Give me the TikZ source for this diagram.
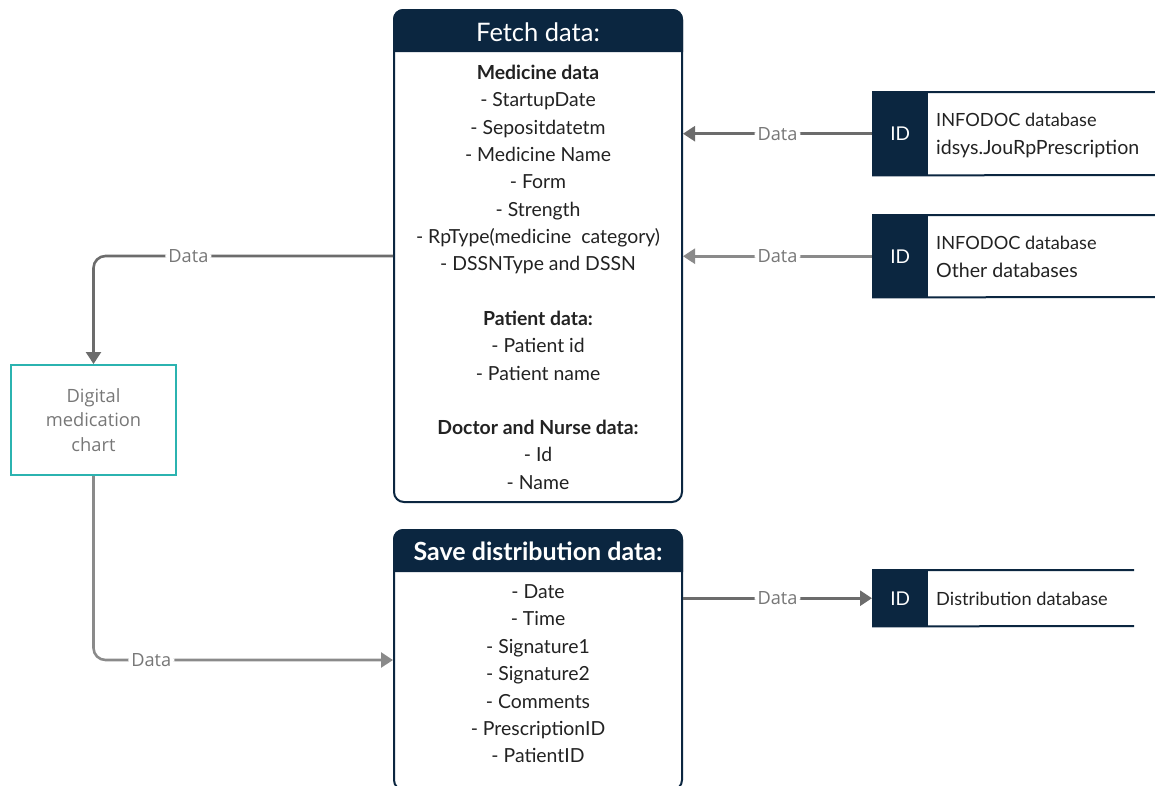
\documentclass[tikz,border=0pt]{standalone}
\usepackage{fontspec}
\setmainfont{Lato}
\newfontfamily\lblfont{Open Sans}
\usetikzlibrary{arrows.meta}
\definecolor{navy}{HTML}{0B2640}
\definecolor{chartteal}{HTML}{2BB3B0}
\definecolor{flowdark}{HTML}{6C6C6C}
\definecolor{flowlight}{HTML}{8A8A8A}
\definecolor{lbltext}{HTML}{777777}
\definecolor{bodytext}{HTML}{222222}
\tikzset{
  panel/.style={draw=navy, line width=2pt, rounded corners=10pt, fill=white},
  item/.style={font=\fontsize{19.4}{23}\selectfont, text=bodytext, anchor=base, inner sep=0pt},
  itemhead/.style={item, font=\fontsize{19.4}{23}\selectfont\bfseries},
  title/.style={font=\fontsize{25.5}{30}\selectfont, text=white, anchor=base, inner sep=0pt},
  idbox/.style={fill=navy, text=white, font=\fontsize{19}{22}\selectfont, anchor=north west, inner sep=0pt},
  dbtext/.style={anchor=base west, inner sep=0pt, text=bodytext},
  flow/.style={line width=2.6pt, -{Triangle[length=12pt,width=15pt]}, rounded corners=12pt},
  lbl/.style={font=\lblfont\fontsize{18.2}{21}\selectfont, text=lbltext, fill=white, inner sep=3pt},
}
\begin{document}
\begin{tikzpicture}[x=1pt,y=-1pt]
\useasboundingbox (0,0) rectangle (1155,785);

% ---- Fetch data panel ----
\node[panel, minimum width=288, minimum height=492, inner sep=0pt] (fetch) at (538,256) {};
\fill[navy] (fetch.west |- 0,52) {[rounded corners=10pt] -- (fetch.north west) -- (fetch.north east)} -- (fetch.east |- 0,52) -- cycle;
\node[title] (fetchtitle) at (538,41) {Fetch data:};
\foreach \t/\y [count=\i] in {Medicine data/79, Patient data:/325, Doctor and Nurse data:/434}
  \node[itemhead] (fh\i) at (538,\y) {\t};
\foreach \t/\y [count=\i] in {
  - StartupDate/106, - Sepositdatetm/134, - Medicine Name/161, - Form/188,
  - Strength/216, - RpType(medicine\ \ category)/243, - DSSNType and DSSN/270,
  - Patient id/352, - Patient name/380, - Id/461, - Name/489}
  \node[item] (fi\i) at (538,\y) {\t};

% ---- Save distribution data panel ----
\node[panel, minimum width=288, minimum height=260, inner sep=0pt] (save) at (538,660) {};
\fill[navy] (save.west |- 0,572) {[rounded corners=10pt] -- (save.north west) -- (save.north east)} -- (save.east |- 0,572) -- cycle;
\node[title, font=\fontsize{25}{30}\selectfont\bfseries] (savetitle) at (538,560) {Save distribution data:};
\foreach \t/\y [count=\i] in {
  - Date/598, - Time/625, - Signature1/653, - Signature2/680,
  - Comments/708, - PrescriptionID/735, - PatientID/762}
  \node[item] (si\i) at (538,\y) {\t};

% ---- Source and target databases ----
\node[idbox, minimum width=56, minimum height=83] (id1) at (872,92) {ID};
\draw[navy, line width=2pt] (id1.north west) -- (1160,92) (id1.south west) -- (1160,175);
\node[dbtext, font=\fontsize{18.2}{21}\selectfont] (db1a) at (936,126) {INFODOC database};
\node[dbtext, font=\fontsize{19.6}{23}\selectfont] (db1b) at (936,154) {idsys.JouRpPrescription};

\node[idbox, minimum width=56, minimum height=82] (id2) at (872,215) {ID};
\draw[navy, line width=2pt] (id2.north west) -- (1160,215) (id2.south west) -- (1160,297);
\node[dbtext, font=\fontsize{18.2}{21}\selectfont] (db2a) at (936,249) {INFODOC database};
\node[dbtext, font=\fontsize{19.6}{23}\selectfont] (db2b) at (936,277) {Other databases};

\node[idbox, minimum width=56, minimum height=56] (id3) at (872,570) {ID};
\draw[navy, line width=2pt] (id3.north west) -- (1134,570) (id3.south west) -- (1134,626);
\node[dbtext, font=\fontsize{18.2}{21}\selectfont] (db3a) at (936,605) {Distribution database};

% ---- Digital medication chart ----
\node[draw=chartteal, line width=2pt, minimum width=165, minimum height=110, inner sep=0pt,
      align=center, text=lbltext, font=\lblfont\fontsize{18.3}{24.5}\selectfont] (chart) at (93.5,420)
      {Digital\\medication\\chart};

% ---- Data flows ----
\draw[flow, flowdark] (id1.west) -- node[lbl]{Data} (fetch.east |- id1.west);
\draw[flow, flowlight] (id2.west) -- node[lbl]{Data} (fetch.east |- id2.west);
\draw[flow, flowdark] (save.east |- id3.west) -- node[lbl]{Data} (id3.west);
\draw[flow, flowdark] (fetch.west) -- node[lbl, pos=0.683]{Data} (chart.north |- fetch.west) -- (chart.north);
\draw[flow, flowlight] (chart.south) -- (chart.south |- save.west) -- node[lbl, pos=0.193]{Data} (save.west);
\end{tikzpicture}
\end{document}
